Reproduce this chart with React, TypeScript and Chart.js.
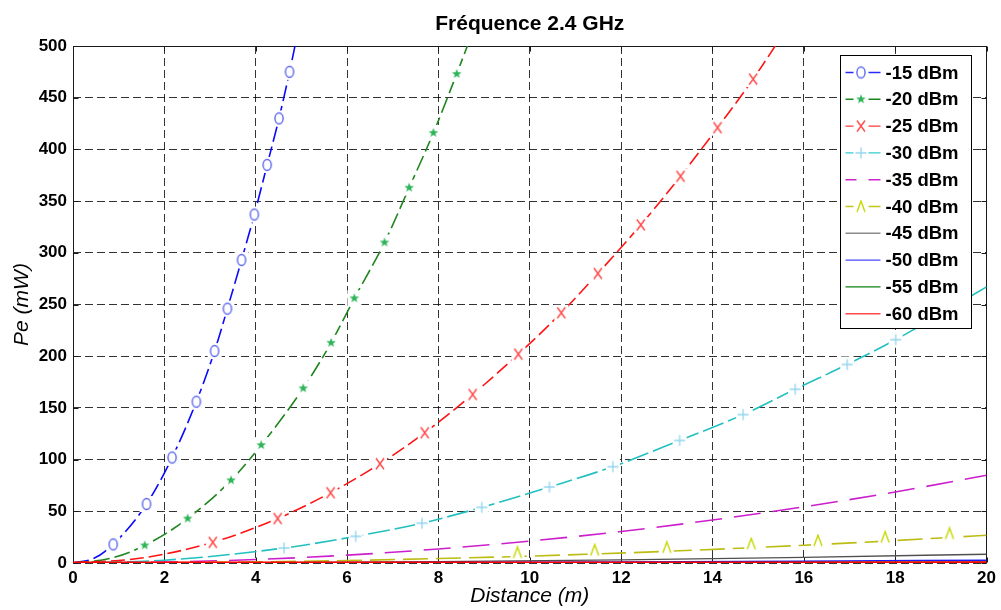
import React, { useEffect, useRef } from 'react';
import { Chart, registerables } from 'chart.js';

Chart.register(...registerables);

// ---------- text ----------
const TITLE = 'Fréquence 2.4 GHz';
const X_LABEL = 'Distance (m)';
const Y_LABEL = 'Pe (mW)';
const SERIES_LABELS = ['-15 dBm', '-20 dBm', '-25 dBm', '-30 dBm', '-35 dBm', '-40 dBm', '-45 dBm', '-50 dBm', '-55 dBm', '-60 dBm'];

// ---------- axes ----------
const X_MIN = 0;
const X_MAX = 20;
const X_STEP = 2;
const Y_MIN = 0;
const Y_MAX = 500;
const Y_STEP = 50;

// ---------- data (distance in m, Pe in mW, marker flag) ----------
const d15 = [0, 0.45, 0.88, 1.61, 2.17, 2.70, 3.10, 3.38, 3.69, 3.97, 4.25, 4.51, 4.74, 5.2];
const p15 = [0, 4.3, 18, 57, 102, 156, 205, 246, 293, 337, 385, 430, 475, 573];
const m15 = [0, 0, 1, 1, 1, 1, 1, 1, 1, 1, 1, 1, 1, 0];

const d20 = [0, 0.8, 1.57, 2.51, 3.46, 4.12, 5.04, 5.65, 6.16, 6.82, 7.36, 7.89, 8.40, 9.0];
const p20 = [0, 4.3, 17, 43, 80, 114, 169, 213, 256, 310, 363, 416, 473, 543];
const m20 = [0, 0, 1, 1, 1, 1, 1, 1, 1, 1, 1, 1, 1, 0];

const d25 = [0, 1.5, 3.06, 4.48, 5.64, 6.72, 7.70, 8.75, 9.75, 10.69, 11.49, 12.43, 13.30, 14.11, 14.89, 15.8];
const p25 = [0, 4.8, 20, 43, 68, 96, 126, 163, 202, 242, 280, 327, 374, 421, 468, 529];
const m25 = [0, 0, 1, 1, 1, 1, 1, 1, 1, 1, 1, 1, 1, 1, 1, 0];

const d30 = [0, 2, 4.62, 6.19, 7.64, 8.95, 10.43, 11.82, 13.28, 14.67, 15.81, 16.95, 18.01, 20];
const p30 = [0, 2.7, 14.5, 25.8, 38.5, 53.8, 73.5, 93.2, 118.5, 143.5, 168, 192, 216, 267];
const m30 = [0, 0, 1, 1, 1, 1, 1, 1, 1, 1, 1, 1, 1, 0];

const d35 = [0, 2, 4, 6, 8, 10, 12, 14, 16, 18, 20];
const p35 = [0, 0.85, 3.4, 7.6, 13.6, 21.2, 30.5, 41.6, 54.3, 68.7, 84.8];

const d40 = [0, 3, 6, 8, 9.73, 11.42, 13.0, 14.85, 16.31, 17.78, 19.19, 20];
const p40 = [0, 0.6, 2.4, 4.3, 6.3, 8.7, 11.3, 14.8, 17.8, 21.2, 24.7, 26.8];
const m40 = [0, 0, 0, 0, 1, 1, 1, 1, 1, 1, 1, 0];

const dLow = [0, 4, 8, 12, 16, 20];
const p45 = [0, 0.34, 1.36, 3.05, 5.4, 8.5];
const p50 = [0, 0.11, 0.43, 0.96, 1.7, 2.7];
const p55 = [0, 0.03, 0.14, 0.3, 0.54, 0.85];
const p60 = [0, 0.01, 0.04, 0.1, 0.17, 0.27];

const SERIES_D = [d15, d20, d25, d30, d35, d40, dLow, dLow, dLow, dLow];
const SERIES_P = [p15, p20, p25, p30, p35, p40, p45, p50, p55, p60];
const SERIES_M = [m15, m20, m25, m30, null, m40, null, null, null, null];

// ---------- styles ----------
type Sty = { color: string; legendColor: string; mcolor: string; glyph: string | null; dash: number[]; width: number; legend: 'marker' | 'gap' | 'solid' };
const STYLES: Sty[] = [
  { color: '#0a0aff', legendColor: '#2a2aff', mcolor: '#5a66ee', glyph: 'o', dash: [16, 5], width: 1.6, legend: 'marker' },
  { color: '#1f861f', legendColor: '#1f861f', mcolor: '#2fb45a', glyph: '*', dash: [16, 5], width: 1.6, legend: 'marker' },
  { color: '#ff1414', legendColor: '#ff3a3a', mcolor: '#ff4848', glyph: 'x', dash: [14, 5], width: 1.6, legend: 'marker' },
  { color: '#22c0c0', legendColor: '#33cccc', mcolor: '#92d6f0', glyph: '+', dash: [22, 5], width: 1.6, legend: 'marker' },
  { color: '#cc1fcc', legendColor: '#cc22cc', mcolor: '#cc22cc', glyph: null, dash: [27, 12], width: 1.6, legend: 'gap' },
  { color: '#bcbc14', legendColor: '#c4c41a', mcolor: '#c6d800', glyph: '^', dash: [25, 8], width: 1.6, legend: 'marker' },
  { color: '#505050', legendColor: '#8a8a8a', mcolor: '#505050', glyph: null, dash: [], width: 1.4, legend: 'solid' },
  { color: '#1a1aff', legendColor: '#4a4aff', mcolor: '#1a1aff', glyph: null, dash: [], width: 1.5, legend: 'solid' },
  { color: '#0f800f', legendColor: '#0f800f', mcolor: '#0f800f', glyph: null, dash: [], width: 1.5, legend: 'solid' },
  { color: '#ff0000', legendColor: '#ff4a4a', mcolor: '#ff0000', glyph: null, dash: [], width: 2.8, legend: 'solid' },
];

const FONT = '"Liberation Sans", Arial, Helvetica, sans-serif';

function makeGlyph(kind: string, color: string, bg: boolean): HTMLCanvasElement {
  const c = document.createElement('canvas');
  c.width = 18;
  c.height = 22;
  const g = c.getContext('2d') as CanvasRenderingContext2D;
  if (bg) {
    g.fillStyle = '#ffffff';
    g.fillRect(2, 3, 14, 16);
  }
  const cx = 9;
  const cy = kind === '^' ? 7 : 11;
  g.strokeStyle = color;
  g.fillStyle = color;
  g.lineWidth = 1.4;
  g.lineCap = 'butt';
  g.beginPath();
  if (kind === 'o') {
    g.ellipse(cx, cy, 4.1, 5.5, 0, 0, Math.PI * 2);
    g.stroke();
  } else if (kind === 'x') {
    g.moveTo(cx - 4, cy - 5.5);
    g.lineTo(cx + 4, cy + 5.5);
    g.moveTo(cx + 4, cy - 5.5);
    g.lineTo(cx - 4, cy + 5.5);
    g.stroke();
  } else if (kind === '+') {
    g.lineWidth = 1.3;
    g.moveTo(cx - 5.5, cy);
    g.lineTo(cx + 5.5, cy);
    g.moveTo(cx, cy - 5.5);
    g.lineTo(cx, cy + 5.5);
    g.stroke();
  } else if (kind === '^') {
    g.moveTo(cx - 4, cy + 5.5);
    g.lineTo(cx, cy - 5.5);
    g.lineTo(cx + 4, cy + 5.5);
    g.stroke();
  } else if (kind === '*') {
    const R = 5;
    const r = 2.1;
    for (let k = 0; k < 10; k++) {
      const a = -Math.PI / 2 + (k * Math.PI) / 5;
      const rr = k % 2 === 0 ? R : r;
      const px = cx + rr * Math.cos(a);
      const py = cy + rr * Math.sin(a);
      if (k === 0) g.moveTo(px, py);
      else g.lineTo(px, py);
    }
    g.closePath();
    g.fill();
  }
  return c;
}

export default function App() {
  const ref = useRef<HTMLCanvasElement | null>(null);

  useEffect(() => {
    document.body.style.margin = '0';
    const canvas = ref.current;
    if (!canvas) return;

    const glyphs = STYLES.map((s) => (s.glyph ? makeGlyph(s.glyph, s.mcolor, true) : null));
    const legendGlyphs = STYLES.map((s) => (s.glyph ? makeGlyph(s.glyph, s.mcolor, false) : null));

    const framePlugin = {
      id: 'frame',
      beforeDatasetsDraw(chart: any) {
        const { ctx, chartArea: a } = chart;
        const L = Math.round(a.left) + 0.5;
        const R = Math.round(a.right) - 0.5;
        const T = Math.round(a.top) + 0.5;
        const B = Math.round(a.bottom) - 0.5;
        ctx.save();
        ctx.setLineDash([]);
        ctx.strokeStyle = '#1a1a1a';
        ctx.lineWidth = 1;
        ctx.beginPath();
        ctx.rect(L, T, R - L, B - T);
        const xs = chart.scales.x;
        const ys = chart.scales.y;
        for (let v = X_MIN; v <= X_MAX; v += X_STEP) {
          const px = Math.round(xs.getPixelForValue(v)) + 0.5;
          ctx.moveTo(px, B);
          ctx.lineTo(px, B - 5);
          ctx.moveTo(px, T);
          ctx.lineTo(px, T + 5);
        }
        for (let v = Y_MIN; v <= Y_MAX; v += Y_STEP) {
          const py = Math.round(ys.getPixelForValue(v)) + 0.5;
          ctx.moveTo(L, py);
          ctx.lineTo(L + 5, py);
          ctx.moveTo(R, py);
          ctx.lineTo(R - 5, py);
        }
        ctx.stroke();
        ctx.restore();
      },
    };

    const overlayPlugin = {
      id: 'overlay',
      afterDraw(chart: any) {
        const { ctx, chartArea: a } = chart;
        ctx.save();
        // title
        ctx.fillStyle = '#000';
        ctx.font = `bold 21px ${FONT}`;
        ctx.textAlign = 'center';
        ctx.textBaseline = 'middle';
        ctx.fillText(TITLE, (a.left + a.right) / 2, 24);

        // legend
        const bx = Math.round(a.right) - 147 + 0.5;
        const by = Math.round(a.top) + 9 + 0.5;
        const bw = 131;
        const bh = 273;
        ctx.fillStyle = '#fff';
        ctx.fillRect(bx, by, bw, bh);
        ctx.strokeStyle = '#000';
        ctx.lineWidth = 1;
        ctx.setLineDash([]);
        ctx.strokeRect(bx, by, bw, bh);
        ctx.font = `bold 18.5px ${FONT}`;
        ctx.textAlign = 'left';
        ctx.textBaseline = 'middle';
        const x0 = bx + 5;
        const x1 = bx + 40;
        const xm = (x0 + x1) / 2;
        SERIES_LABELS.forEach((lab, i) => {
          const y = by + 17 + i * 26.8;
          const s = STYLES[i];
          ctx.strokeStyle = s.legendColor;
          ctx.lineWidth = 1.4;
          ctx.beginPath();
          if (s.legend === 'solid') {
            ctx.moveTo(x0, y);
            ctx.lineTo(x1, y);
          } else if (s.legend === 'gap') {
            ctx.moveTo(x0, y);
            ctx.lineTo(x0 + 11, y);
            ctx.moveTo(x1 - 12, y);
            ctx.lineTo(x1, y);
          } else {
            ctx.moveTo(x0, y);
            ctx.lineTo(x0 + 8, y);
            ctx.moveTo(x1 - 12, y);
            ctx.lineTo(x1, y);
          }
          ctx.stroke();
          const gl = legendGlyphs[i];
          if (gl) {
            const dy = s.glyph === '^' ? 4 : 0;
            ctx.drawImage(gl, xm - 2 - gl.width / 2, y + dy - gl.height / 2);
          }
          ctx.fillStyle = '#000';
          ctx.fillText(lab, bx + 45, y + 1);
        });
        ctx.restore();
      },
    };

    const datasets = SERIES_LABELS.map((label, i) => {
      const s = STYLES[i];
      const d = SERIES_D[i];
      const p = SERIES_P[i];
      const m = SERIES_M[i];
      return {
        label,
        data: d.map((x, j) => ({ x, y: p[j] })),
        borderColor: s.color,
        backgroundColor: s.color,
        borderWidth: s.width,
        borderDash: s.dash,
        fill: false,
        cubicInterpolationMode: 'monotone' as const,
        pointStyle: (c: any) => (m && m[c.dataIndex] && glyphs[i] ? glyphs[i] : 'circle'),
        pointRadius: (c: any) => (m && m[c.dataIndex] ? 6 : 0),
        pointHoverRadius: 0,
        order: 9 - i,
      };
    });

    const chart = new Chart(canvas, {
      type: 'line',
      data: { datasets: datasets as any },
      options: {
        animation: false,
        responsive: false,
        events: [],
        layout: { padding: { top: 46, right: 11, left: 0, bottom: 0 } },
        plugins: {
          legend: { display: false },
          title: { display: false },
          tooltip: { enabled: false },
        },
        scales: {
          x: {
            type: 'linear',
            min: X_MIN,
            max: X_MAX,
            ticks: {
              stepSize: X_STEP,
              color: '#000',
              padding: 5,
              font: { family: FONT, size: 17, weight: 'bold' },
            },
            grid: { color: 'rgba(0,0,0,0.8)', lineWidth: 1, drawTicks: false },
            border: { display: false, dash: [8, 4] },
            title: {
              display: true,
              text: X_LABEL,
              color: '#000',
              padding: { top: 0, bottom: 1 },
              font: { family: FONT, size: 21, style: 'italic' },
            },
            afterFit: (sc: any) => {
              sc.height = 47;
            },
          },
          y: {
            type: 'linear',
            min: Y_MIN,
            max: Y_MAX,
            ticks: {
              stepSize: Y_STEP,
              color: '#000',
              padding: 6,
              font: { family: FONT, size: 17, weight: 'bold' },
            },
            grid: { color: 'rgba(0,0,0,0.8)', lineWidth: 1, drawTicks: false },
            border: { display: false, dash: [8, 4] },
            title: {
              display: true,
              text: Y_LABEL,
              color: '#000',
              padding: { top: 10, bottom: 0 },
              font: { family: FONT, size: 21, style: 'italic' },
            },
            afterFit: (sc: any) => {
              sc.width = 73;
            },
          },
        },
      } as any,
      plugins: [framePlugin, overlayPlugin],
    });

    return () => {
      chart.destroy();
    };
  }, []);

  return (
    <div style={{ position: 'absolute', left: 0, top: 0, width: 1001, height: 610, background: '#fff' }}>
      <canvas ref={ref} width={1001} height={610} style={{ display: 'block' }} />
    </div>
  );
}
